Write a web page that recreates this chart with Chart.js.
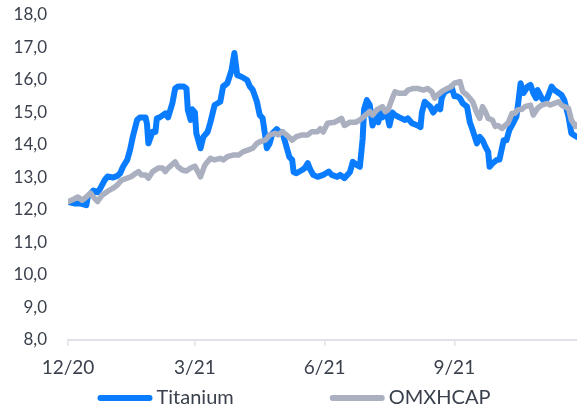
<!DOCTYPE html>
<html>
<head>
<meta charset="utf-8">
<script src="https://cdn.jsdelivr.net/npm/chart.js@4/dist/chart.umd.min.js"></script>
<style>
  html, body { margin: 0; padding: 0; background: #ffffff; }
  #wrap { width: 577px; height: 408px; }
</style>
</head>
<body>
<div id="wrap"><canvas id="c" width="577" height="408"></canvas></div>
<script>
// Days counted from 1 Dec 2020
const seriesNames = ['Titanium', 'OMXHCAP'];
const titaniumDays = [0,5,9,13,14,18,21,23,26,28,32,35,37,39,42,44,46,49,51,55,56,57,60,62,63,65,69,71,74,76,78,82,84,85,87,88,90,91,94,96,99,101,104,108,110,113,116,118,120,123,127,129,131,134,136,138,140,141,143,145,148,150,152,155,157,159,160,162,166,168,170,172,174,177,181,183,185,187,191,193,196,200,202,205,207,209,210,212,214,216,218,220,222,223,226,228,230,232,235,239,241,244,248,250,251,253,257,259,262,264,265,267,270,272,274,276,278,280,283,285,287,290,292,294,296,298,299,301,304,306,309,311,313,316,318,319,321,323,326,328,330,332,333,336,338,340,343,345,348,350,352,355,357,359,361];
const titaniumValues = [12.25,12.2,12.2,12.15,12.4,12.6,12.55,12.67,12.92,13.03,13.0,13.05,13.13,13.33,13.54,13.85,14.26,14.77,14.85,14.85,14.65,14.05,14.41,14.4,14.82,14.85,14.97,14.85,15.28,15.74,15.8,15.8,15.74,15.08,14.77,15.1,15.0,14.36,13.9,14.25,14.4,14.7,15.23,15.33,15.8,15.9,16.3,16.83,16.15,16.1,16.0,15.8,15.7,15.33,14.92,14.83,14.25,13.9,14.05,14.36,14.49,14.4,14.4,13.94,13.63,13.54,13.17,13.13,13.23,13.29,13.44,13.23,13.08,13.02,13.08,13.13,13.18,13.08,13.02,13.08,12.98,13.17,13.48,13.38,13.33,14.2,15.1,15.38,15.23,14.6,14.87,14.7,15.08,14.85,15.0,14.6,15.0,14.92,14.85,14.77,14.82,14.67,14.6,14.55,15.0,15.33,15.18,15.0,15.18,15.1,15.44,15.63,15.69,15.8,15.5,15.5,15.44,15.28,15.18,14.7,14.46,14.05,14.25,14.15,13.95,13.79,13.33,13.43,13.54,13.55,14.15,14.15,14.46,14.7,14.87,15.18,15.9,15.6,15.8,15.85,15.6,15.44,15.69,15.44,15.33,15.45,15.8,15.69,15.6,15.54,15.38,14.87,14.36,14.3,14.25];
const omxDays = [0,4,7,10,13,16,18,21,24,28,32,35,38,42,45,48,50,52,55,57,60,64,67,69,71,76,78,81,84,87,90,94,97,101,104,108,110,113,117,121,124,128,131,134,136,140,143,147,149,152,155,159,162,166,170,173,177,179,181,184,189,192,194,196,200,204,207,211,214,216,219,223,225,227,230,232,235,239,241,245,248,252,255,258,260,262,265,269,272,274,278,280,283,285,287,290,292,294,296,298,301,303,305,308,310,312,315,317,319,322,324,328,330,333,336,340,342,345,348,350,352,355,357,360,361];
const omxValues = [12.25,12.33,12.4,12.3,12.4,12.52,12.4,12.26,12.45,12.57,12.67,12.77,12.92,12.98,13.03,13.13,13.18,13.08,13.08,12.98,13.18,13.29,13.29,13.18,13.29,13.48,13.33,13.23,13.2,13.29,13.35,13.02,13.38,13.59,13.54,13.59,13.54,13.64,13.69,13.69,13.79,13.85,13.9,14.05,14.1,14.15,14.31,14.36,14.31,14.41,14.31,14.15,14.26,14.31,14.31,14.41,14.41,14.5,14.4,14.67,14.7,14.77,14.82,14.6,14.7,14.7,14.77,14.92,15.03,14.92,15.08,15.18,15.03,15.08,15.44,15.64,15.59,15.59,15.69,15.74,15.74,15.69,15.74,15.64,15.44,15.54,15.64,15.74,15.8,15.9,15.95,15.64,15.54,15.44,15.33,14.98,14.82,15.18,15.03,14.82,14.77,14.57,14.6,14.51,14.6,14.67,14.98,14.98,15.08,15.1,15.18,15.23,14.92,15.13,15.23,15.28,15.23,15.28,15.33,15.23,15.18,15.13,14.77,14.57,14.62];
const xTickDays = [0, 90, 182, 274];
const xTickLabels = ['12/20', '3/21', '6/21', '9/21'];
const yTickValues = [8, 9, 10, 11, 12, 13, 14, 15, 16, 17, 18];

const seriesColors = ['#0a7cff', '#abb0c0'];
const textColor = '#3a414c';
const axisColor = '#e0e2e8';

function pts(days, vals) { return days.map((d, i) => ({ x: d, y: vals[i] })); }

const bottomLegend = {
  id: 'bottomLegend',
  afterDraw(chart) {
    const ctx = chart.ctx;
    const y = 398;
    const seg = 55, gapText = 4, gapItem = 96;
    ctx.save();
    ctx.font = '20px Lato';
    const items = chart.data.datasets.map(ds => ({ label: ds.label, color: ds.borderColor, w: seg + gapText + ctx.measureText(ds.label).width }));
    const total = items.reduce((s, it) => s + it.w, 0) + gapItem * (items.length - 1);
    let x = 294 - total / 2;
    items.forEach(it => {
      ctx.strokeStyle = it.color;
      ctx.lineWidth = 6;
      ctx.lineCap = 'round';
      ctx.beginPath();
      ctx.moveTo(x + 3, y);
      ctx.lineTo(x + seg - 3, y);
      ctx.stroke();
      ctx.fillStyle = textColor;
      ctx.textBaseline = 'middle';
      ctx.textAlign = 'left';
      ctx.fillText(it.label, x + seg + gapText, y);
      x += it.w + gapItem;
    });
    ctx.restore();
  }
};

new Chart(document.getElementById('c'), {
  type: 'line',
  data: {
    datasets: [
      { label: seriesNames[0], data: pts(titaniumDays, titaniumValues), borderColor: seriesColors[0], backgroundColor: seriesColors[0], borderWidth: 6, pointRadius: 0, tension: 0, borderJoinStyle: 'round', borderCapStyle: 'round', order: 1 },
      { label: seriesNames[1], data: pts(omxDays, omxValues), borderColor: seriesColors[1], backgroundColor: seriesColors[1], borderWidth: 5.5, pointRadius: 0, tension: 0, borderJoinStyle: 'round', borderCapStyle: 'round', order: 0 }
    ]
  },
  options: {
    responsive: false,
    animation: false,
    events: [],
    layout: { padding: { top: 15, bottom: 28, left: 0, right: 0 } },
    plugins: { legend: { display: false }, tooltip: { enabled: false } },
    scales: {
      x: {
        type: 'linear',
        min: 0,
        max: 361,
        afterBuildTicks: s => { s.ticks = xTickDays.map(v => ({ value: v })); },
        afterFit: s => { s.height = 40; },
        grid: { drawOnChartArea: false, drawTicks: true, tickLength: 6, color: axisColor, lineWidth: 1.5 },
        border: { display: true, color: axisColor, width: 2 },
        ticks: {
          autoSkip: false, maxRotation: 0, padding: 10,
          color: textColor, font: { family: 'Lato', size: 19 },
          callback: v => xTickLabels[xTickDays.indexOf(v)]
        }
      },
      y: {
        min: 8,
        max: 18,
        afterBuildTicks: s => { s.ticks = yTickValues.map(v => ({ value: v })); },
        afterFit: s => { s.width = 68; },
        grid: { display: true, drawOnChartArea: false, drawTicks: true, tickLength: 21, color: 'rgba(0,0,0,0)' },
        border: { display: false },
        ticks: {
          padding: 0,
          color: textColor, font: { family: 'Lato', size: 17 },
          callback: v => v.toFixed(1).replace('.', ',')
        }
      }
    }
  },
  plugins: [bottomLegend]
});
</script>
</body>
</html>
